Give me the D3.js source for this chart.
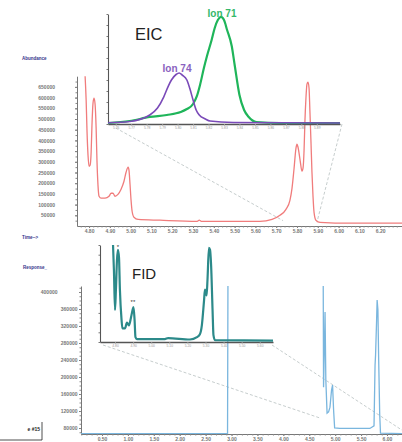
<!DOCTYPE html>
<html>
<head>
<meta charset="utf-8">
<script src="https://cdn.jsdelivr.net/npm/d3@7"></script>
<style>
  body { margin: 0; background: #fff; }
  svg { display: block; font-family: "Liberation Sans", Arial, sans-serif; }
</style>
</head>
<body>
<svg id="chart" width="402" height="442"></svg>
<script>
// ---- GC-MS total ion trace (top) ----
const msTime = [4.781, 4.786, 4.790, 4.795, 4.800, 4.805, 4.810, 4.814, 4.819, 4.824,
                4.829, 4.834, 4.838, 4.843, 4.848, 4.858, 4.877, 4.896, 4.906, 4.915,
                4.925, 4.939, 4.954, 4.968, 4.978, 4.988, 4.992, 4.997, 5.002, 5.007,
                5.016, 5.036, 5.141, 5.320, 5.330, 5.340, 5.478, 5.622, 5.680, 5.718,
                5.747, 5.766, 5.776, 5.786, 5.795, 5.800, 5.805, 5.815, 5.824, 5.829,
                5.834, 5.838, 5.843, 5.848, 5.853, 5.858, 5.862, 5.867, 5.872, 5.877,
                5.882, 5.891, 5.911, 6.055, 6.305];
const msAbund = [700000, 588000, 448000, 331000, 279000, 284000, 345000, 471000, 574000, 597000,
                 569000, 457000, 307000, 190000, 139000, 130000, 130000, 139000, 153000, 153000,
                 139000, 148000, 172000, 209000, 251000, 275000, 261000, 195000, 120000, 69000,
                 41000, 31000, 27000, 22000, 27000, 22000, 22000, 22000, 31000, 50000,
                 78000, 120000, 176000, 270000, 363000, 382000, 368000, 307000, 256000, 270000,
                 354000, 485000, 597000, 663000, 672000, 644000, 541000, 401000, 251000, 139000,
                 64000, 27000, 17000, 13000, 13000];
const msXTicks = [4.8, 4.9, 5.0, 5.1, 5.2, 5.3, 5.4, 5.5, 5.6, 5.7, 5.8, 5.9, 6.0, 6.1, 6.2];
const msYTicks = [50000, 100000, 150000, 200000, 250000, 300000, 350000,
                  400000, 450000, 500000, 550000, 600000, 650000];

// ---- EIC inset ----
const ion74Time = [5.755, 5.769, 5.782, 5.787, 5.791, 5.794, 5.796, 5.799, 5.801, 5.803,
                   5.806, 5.808, 5.810, 5.812, 5.814, 5.818, 5.821, 5.836, 5.905];
const ion74 = [1.2, 2.3, 8.2, 14.5, 24.5, 34.5, 40, 45, 46.4, 44.5,
               40, 31.8, 21.8, 12.7, 8.2, 4.5, 2.7, 1.4, 0.9];
const ion71Time = [5.755, 5.769, 5.782, 5.793, 5.802, 5.806, 5.810, 5.8125, 5.8145, 5.817,
                   5.819, 5.822, 5.824, 5.826, 5.828, 5.830, 5.832, 5.835, 5.837, 5.840,
                   5.843, 5.846, 5.851, 5.866, 5.905];
const ion71 = [0.9, 2.7, 6.4, 8.2, 10.9, 13.6, 18.2, 25.5, 35.5, 50.9,
               61.8, 76.4, 87.3, 94.5, 97.3, 94.5, 85.5, 70.9, 52.7, 26.4,
               12.7, 6.4, 1.8, 0.9, 0.9];
const eicTicks = [5.76, 5.77, 5.78, 5.79, 5.80, 5.81, 5.82, 5.83, 5.84, 5.85, 5.86, 5.87, 5.88, 5.89];

// ---- FID trace (bottom) ----
const fidTime = [0.095, 2.923, 2.935, 4.765, 4.776, 4.795, 4.805, 4.820, 4.844, 4.873,
                 4.900, 4.930, 4.950, 4.970, 4.990, 5.090, 5.670, 5.750, 5.770, 5.780,
                 5.800, 5.810, 5.825, 5.840, 5.860, 5.875, 6.290];
const fidResp = [67000, 67000, 600000, 600000, 176000, 287000, 353000, 193000, 115000, 118000,
                 129000, 169000, 181000, 122000, 80000, 79000, 79000, 85000, 228000, 252000,
                 334000, 381000, 358000, 240000, 111000, 68000, 67000];
const fidXTicks = [0.5, 1.0, 1.5, 2.0, 2.5, 3.0, 3.5, 4.0, 4.5, 5.0, 5.5, 6.0];
const fidYTicks = [80000, 120000, 160000, 200000, 240000, 280000, 320000, 360000, 400000];

// ---- FID inset ----
const fidZoomTime = [4.789, 4.794, 4.800, 4.805, 4.811, 4.816, 4.822, 4.827, 4.836, 4.841,
                     4.855, 4.866, 4.877, 4.888, 4.897, 4.902, 4.908, 4.913, 4.921, 5.076,
                     5.093, 5.214, 5.253, 5.269, 5.280, 5.292, 5.297, 5.306, 5.311, 5.319,
                     5.325, 5.331, 5.339, 5.344, 5.352, 5.673];
const fidZoomResp = [100, 74, 33, 54, 85, 95, 87, 54, 23, 14,
                     14, 20, 17, 25, 33, 36, 23, 5, 3, 3,
                     4, 2.6, 5, 8, 17.5, 43, 54, 48, 64, 97,
                     95, 79, 33, 7, 2, 1.5];
const fidZoomTicks = [4.8, 4.9, 5.0, 5.1, 5.2, 5.3, 5.4, 5.5, 5.6];

// where the zoom boxes land on the main traces
const msZoomEnds = [5.733, 5.896];
const msZoomLevel = [25000, 18000];
const fidZoomEnds = [4.708, 6.29];
const fidZoomLevel = [103500, 75000];

const svg = d3.select("#chart");
svg.append("rect").attr("width", 402).attr("height", 442).attr("fill", "#fff");

const zip = (a, b) => a.map((t, i) => [t, b[i]]);

function styleAxis(g, size, color, bold) {
    g.select(".domain").attr("stroke", color);
    g.selectAll(".tick line").attr("stroke", color);
    g.selectAll(".tick text")
        .attr("fill", color)
        .attr("font-size", size)
        .attr("font-weight", bold ? "bold" : "normal")
        .attr("font-family", "'Liberation Sans', Arial, sans-serif");
}

function clip(id, x0, y0, x1, y1) {
    svg.append("clipPath").attr("id", id)
        .append("rect").attr("x", x0).attr("y", y0).attr("width", x1 - x0).attr("height", y1 - y0);
    return "url(#" + id + ")";
}

// ================= TOP (MS) =================
const xTop = d3.scaleLinear().domain([4.742, 6.305]).range([77, 402]);
const yTop = d3.scaleLinear().domain([0, 700000]).range([226, 76.2]);

const gx1 = svg.append("g").attr("transform", "translate(0,226)")
    .call(d3.axisBottom(xTop).tickValues(msXTicks).tickSize(2).tickSizeOuter(0)
        .tickPadding(1).tickFormat(d3.format(".2f")));
styleAxis(gx1, 5, "#777", true);
const gx1m = svg.append("g").attr("transform", "translate(0,226)")
    .call(d3.axisBottom(xTop).tickValues(d3.range(4.76, 6.30, 0.02)).tickSize(1.5).tickFormat(""));
gx1m.select(".domain").remove();
gx1m.selectAll("line").attr("stroke", "#888");

const gy1 = svg.append("g").attr("transform", "translate(77,0)")
    .call(d3.axisLeft(yTop).tickValues(msYTicks).tickSize(2).tickSizeOuter(0)
        .tickPadding(20).tickFormat(d3.format("d")));
styleAxis(gy1, 5, "#777", true);
const gy1m = svg.append("g").attr("transform", "translate(77,0)")
    .call(d3.axisLeft(yTop).tickValues(d3.range(25000, 700000, 25000)).tickSize(1.5).tickFormat(""));
gy1m.select(".domain").remove();
gy1m.selectAll("line").attr("stroke", "#888");

svg.append("text").attr("x", 22).attr("y", 60).attr("font-size", 4.5)
    .attr("fill", "#33338a").attr("font-weight", "bold").text("Abundance");
svg.append("text").attr("x", 22).attr("y", 239).attr("font-size", 4.5)
    .attr("fill", "#33338a").attr("font-weight", "bold").text("Time-->");

// EIC inset scales
const xEic = d3.scaleLinear().domain([5.755, 5.905]).range([108, 340]);
const yEic = d3.scaleLinear().domain([0, 100]).range([124, 14]);

// zoom connectors (dashed)
const conTop = [[xEic(5.76), 128, xTop(msZoomEnds[0]), yTop(msZoomLevel[0])],
                [xEic(5.905) + 2, 124, xTop(msZoomEnds[1]), yTop(msZoomLevel[1])]];
svg.selectAll("line.conTop").data(conTop).join("line").attr("class", "conTop")
    .attr("x1", d => d[0]).attr("y1", d => d[1]).attr("x2", d => d[2]).attr("y2", d => d[3])
    .attr("stroke", "#b8c0c0").attr("stroke-width", 0.8).attr("stroke-dasharray", "3,2");

const msLine = d3.line().x(d => xTop(d[0])).y(d => yTop(d[1])).curve(d3.curveMonotoneX);
svg.append("path").datum(zip(msTime, msAbund))
    .attr("clip-path", clip("clipTop", 77, 76, 402, 226))
    .attr("d", msLine).attr("fill", "none").attr("stroke", "#f07c7c").attr("stroke-width", 1.3);

// EIC inset axes
const gxE = svg.append("g").attr("transform", "translate(0,124)")
    .call(d3.axisBottom(xEic).tickValues(eicTicks).tickSize(1.5).tickSizeOuter(0)
        .tickPadding(1).tickFormat(d3.format(".2f")));
styleAxis(gxE, 3.3, "#999", false);
gxE.select(".domain").attr("stroke", "#555").attr("stroke-width", 1.3);
const gyE = svg.append("g").attr("transform", "translate(108,0)")
    .call(d3.axisLeft(yEic).ticks(10).tickSize(1.5).tickSizeOuter(0).tickFormat(""));
styleAxis(gyE, 3, "#777", false);
gyE.select(".domain").attr("stroke", "#555").attr("stroke-width", 1.1);

const eicLine = d3.line().x(d => xEic(d[0])).y(d => yEic(d[1])).curve(d3.curveMonotoneX);
svg.append("path").datum(zip(ion71Time, ion71)).attr("d", eicLine)
    .attr("fill", "none").attr("stroke", "#1fb55a").attr("stroke-width", 2.2);
svg.append("path").datum(zip(ion74Time, ion74)).attr("d", eicLine)
    .attr("fill", "none").attr("stroke", "#7a4ab8").attr("stroke-width", 1.6);

svg.append("text").attr("x", 135).attr("y", 40).attr("font-size", 16.5)
    .attr("font-family", "Arial, 'Liberation Sans', sans-serif").attr("fill", "#222").text("EIC");
svg.append("text").attr("x", 177).attr("y", 72).attr("text-anchor", "middle")
    .attr("font-size", 10).attr("font-weight", "bold").attr("fill", "#8a62c0").text("Ion 74");
svg.append("text").attr("x", 222).attr("y", 17).attr("text-anchor", "middle")
    .attr("font-size", 10).attr("font-weight", "bold").attr("fill", "#35b86a").text("Ion 71");

// ================= BOTTOM (FID) =================
const xBot = d3.scaleLinear().domain([0.095, 6.29]).range([81, 402]);
const yBot = d3.scaleLinear().domain([65900, 414100]).range([434, 286]);

const gx2 = svg.append("g").attr("transform", "translate(0,434)")
    .call(d3.axisBottom(xBot).tickValues(fidXTicks).tickSize(2).tickSizeOuter(0)
        .tickPadding(1).tickFormat(d3.format(".2f")));
styleAxis(gx2, 5, "#777", true);
const gx2m = svg.append("g").attr("transform", "translate(0,434)")
    .call(d3.axisBottom(xBot).tickValues(d3.range(0.1, 6.29, 0.1)).tickSize(1.5).tickFormat(""));
gx2m.select(".domain").remove();
gx2m.selectAll("line").attr("stroke", "#888");

const gy2 = svg.append("g").attr("transform", "translate(81,0)")
    .call(d3.axisLeft(yBot).tickValues(fidYTicks).tickSize(2).tickSizeOuter(0)
        .tickPadding(1.5).tickFormat(d3.format("d")));
styleAxis(gy2, 5, "#777", true);
gy2.selectAll(".tick").filter(d => d === 400000).select("text").attr("dx", -20);
const gy2m = svg.append("g").attr("transform", "translate(81,0)")
    .call(d3.axisLeft(yBot).tickValues(d3.range(70000, 414000, 10000)).tickSize(1.5).tickFormat(""));
gy2m.select(".domain").remove();
gy2m.selectAll("line").attr("stroke", "#888");

svg.append("text").attr("x", 23).attr("y", 269).attr("font-size", 4.5)
    .attr("fill", "#33338a").attr("font-weight", "bold").text("Response_");

// FID inset scales
const xFz = d3.scaleLinear().domain([4.717, 5.673]).range([100, 273]);
const yFz = d3.scaleLinear().domain([0, 100]).range([342, 245]);

const conBot = [[xFz(4.717) + 3, 345, xBot(fidZoomEnds[0]), yBot(fidZoomLevel[0])],
                [xFz(5.673) - 1, 345, xBot(fidZoomEnds[1]), yBot(fidZoomLevel[1])]];
svg.selectAll("line.conBot").data(conBot).join("line").attr("class", "conBot")
    .attr("x1", d => d[0]).attr("y1", d => d[1]).attr("x2", d => d[2]).attr("y2", d => d[3])
    .attr("stroke", "#b8c0c0").attr("stroke-width", 0.8).attr("stroke-dasharray", "3,2");

const fidLine = d3.line().x(d => xBot(d[0])).y(d => yBot(d[1]));
svg.append("path").datum(zip(fidTime, fidResp))
    .attr("clip-path", clip("clipBot", 81, 286, 402, 434))
    .attr("d", fidLine).attr("fill", "none").attr("stroke", "#7ab6de").attr("stroke-width", 1.3);

// FID inset axes
const gxF = svg.append("g").attr("transform", "translate(0,342)")
    .call(d3.axisBottom(xFz).tickValues(fidZoomTicks).tickSize(1.5).tickSizeOuter(0)
        .tickPadding(1).tickFormat(d3.format(".2f")));
styleAxis(gxF, 3.3, "#999", false);
gxF.select(".domain").attr("stroke", "#555").attr("stroke-width", 1.3);
const gyF = svg.append("g").attr("transform", "translate(100,0)")
    .call(d3.axisLeft(yFz).ticks(10).tickSize(1.5).tickSizeOuter(0).tickFormat(""));
styleAxis(gyF, 3, "#777", false);
gyF.select(".domain").attr("stroke", "#555").attr("stroke-width", 1.1);

const fzLine = d3.line().x(d => xFz(d[0])).y(d => yFz(d[1])).curve(d3.curveMonotoneX);
svg.append("path").datum(zip(fidZoomTime, fidZoomResp))
    .attr("clip-path", clip("clipFz", 100, 245, 273, 342))
    .attr("d", fzLine).attr("fill", "none").attr("stroke", "#2c8a8a").attr("stroke-width", 2.2);

svg.append("text").attr("x", 132).attr("y", 279).attr("font-size", 15)
    .attr("font-family", "Arial, 'Liberation Sans', sans-serif").attr("fill", "#222").text("FID");
svg.append("text").attr("x", xFz(4.816)).attr("y", yFz(95) - 1).attr("text-anchor", "middle")
    .attr("font-size", 6).attr("fill", "#333").text("*");
svg.append("text").attr("x", xFz(4.899)).attr("y", yFz(36) - 3).attr("text-anchor", "middle")
    .attr("font-size", 6).attr("fill", "#333").text("**");

// corner caption box
svg.append("path").attr("d", "M0,440H42V422").attr("fill", "none").attr("stroke", "#222").attr("stroke-width", 0.8);
svg.append("text").attr("x", 40).attr("y", 431).attr("text-anchor", "end")
    .attr("font-size", 5).attr("font-weight", "bold").attr("fill", "#222").text("e #15");
</script>
</body>
</html>
